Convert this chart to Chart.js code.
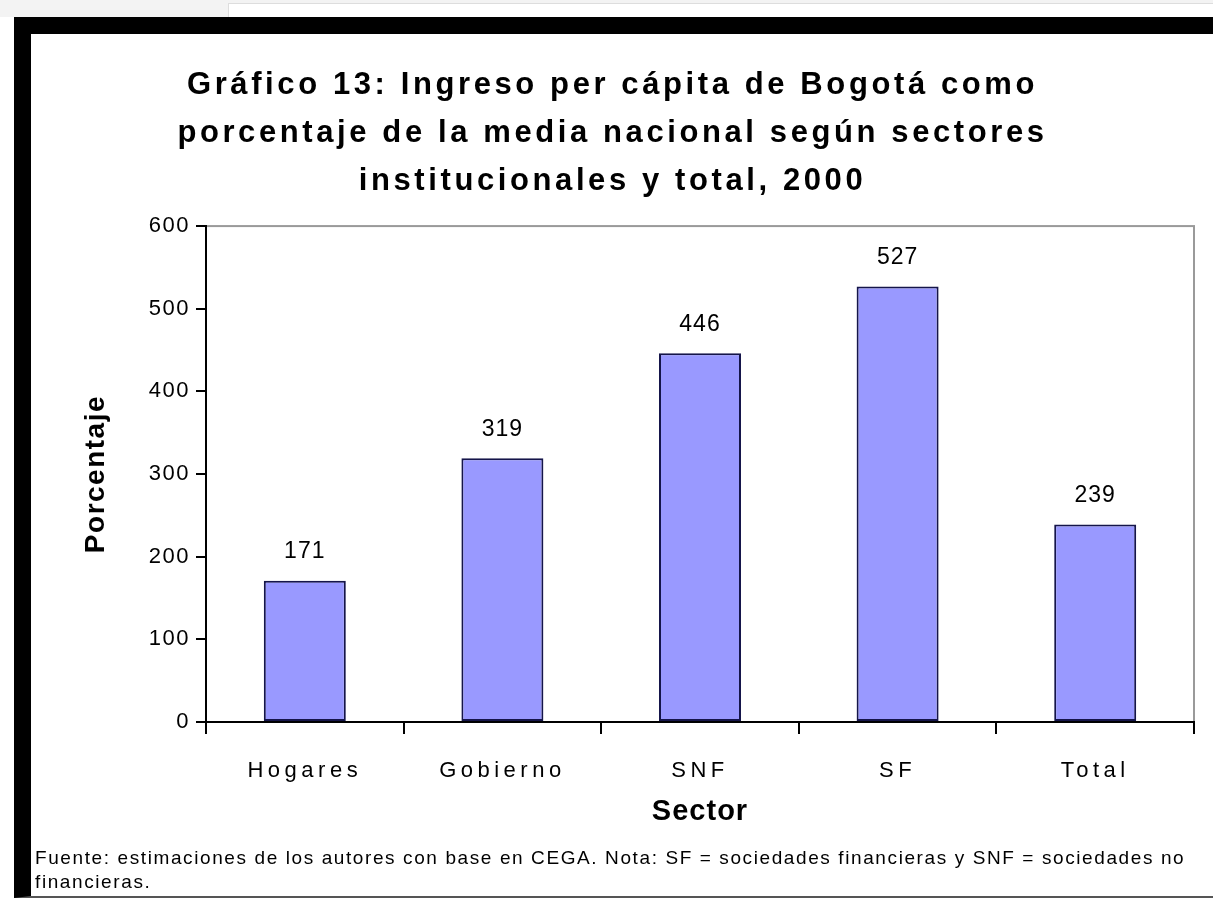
<!DOCTYPE html>
<html>
<head>
<meta charset="utf-8">
<script src="https://cdn.jsdelivr.net/npm/chart.js@4.4.1/dist/chart.umd.min.js"></script>
<style>
    body { margin: 0; background: #fff; width: 1213px; height: 900px; overflow: hidden; position: relative; font-family: "Liberation Sans", Arial, sans-serif; }
    .topstrip { position: absolute; left: 0; top: 0; width: 1213px; height: 17px; background: #f3f3f3; }
    .topbox { position: absolute; left: 228px; top: 3px; width: 990px; height: 14px; background: #fff; border-left: 1px solid #ddd; border-top: 1px solid #ddd; }
    .frame { position: absolute; left: 14px; top: 17px; width: 1182px; height: 862px; border-top: 17px solid #000; border-left: 17px solid #000; border-bottom: 2px solid #555; background: #fff; }
    #chart { position: absolute; left: 0; top: 0; }
    .note { position: absolute; left: 4px; top: 812px; font-size: 19px; line-height: 24px; letter-spacing: 1.6px; color: #000; white-space: nowrap; }
</style>
</head>
<body>
<div class="topstrip"><div class="topbox"></div></div>
<div class="frame">
    <canvas id="chart" width="1182" height="862"></canvas>
    <div class="note">Fuente: estimaciones de los autores con base en CEGA. Nota: SF = sociedades financieras y SNF = sociedades no<br>financieras.</div>
</div>
<script>
const sectores = ['Hogares', 'Gobierno', 'SNF', 'SF', 'Total'];
const porcentajes = [171, 319, 446, 527, 239];
const yTicks = [0, 100, 200, 300, 400, 500, 600];
const titulo = [
    'Gráfico 13: Ingreso per cápita de Bogotá como',
    'porcentaje de la media nacional según sectores',
    'institucionales y total, 2000'
];

const FONT = '"Liberation Sans", Arial, sans-serif';

// canvas text has no letter-spacing option in Chart.js, so wrap the draw calls
function spaced(obj, method, px) {
    if (!obj || obj['_sp_' + method]) return;
    const orig = obj[method];
    obj[method] = function (...args) {
        const c = this.ctx;
        const prev = c.letterSpacing;
        c.letterSpacing = px;
        orig.apply(this, args);
        c.letterSpacing = prev;
    };
    obj['_sp_' + method] = true;
}

const spacingPlugin = {
    id: 'spacing',
    afterLayout(chart) {
        spaced(chart.titleBlock, 'draw', '3.6px');
        spaced(chart.scales.x, 'drawLabels', '4.5px');
        spaced(chart.scales.x, 'drawTitle', '1px');
        spaced(chart.scales.y, 'drawLabels', '1.5px');
        spaced(chart.scales.y, 'drawTitle', '1.5px');
    }
};

// grey plot-area frame, drawn before the black axes
const plotBox = {
    id: 'plotBox',
    beforeDraw(chart) {
        const { ctx, chartArea: a } = chart;
        ctx.save();
        ctx.strokeStyle = '#9a9a9a';
        ctx.lineWidth = 2;
        ctx.strokeRect(a.left, a.top, a.right - a.left, a.bottom - a.top);
        ctx.restore();
    }
};

const valueLabels = {
    id: 'valueLabels',
    afterDatasetsDraw(chart) {
        const ctx = chart.ctx;
        const meta = chart.getDatasetMeta(0);
        ctx.save();
        ctx.font = '23px ' + FONT;
        ctx.fillStyle = '#000';
        ctx.textAlign = 'center';
        ctx.textBaseline = 'middle';
        ctx.letterSpacing = '1px';
        meta.data.forEach((bar, i) => {
            ctx.fillText(String(porcentajes[i]), bar.x, bar.y - 29);
        });
        ctx.restore();
    }
};

const ctx = document.getElementById('chart').getContext('2d');
const chart = new Chart(ctx, {
    type: 'bar',
    data: {
        labels: sectores,
        datasets: [{
            data: porcentajes,
            backgroundColor: '#9999ff',
            borderColor: '#15154a',
            borderWidth: 2,
            borderSkipped: false,
            barPercentage: 0.415,
            categoryPercentage: 1
        }]
    },
    options: {
        responsive: false,
        animation: false,
        devicePixelRatio: 1,
        layout: { padding: { left: 0, right: 19, top: 0, bottom: 54 } },
        plugins: {
            legend: { display: false },
            tooltip: { enabled: false },
            title: {
                display: true,
                text: titulo,
                color: '#000',
                font: { family: FONT, size: 31, weight: 'bold', lineHeight: 1.56 },
                padding: { top: 27, bottom: 20 }
            }
        },
        scales: {
            x: {
                border: { color: '#000', width: 2 },
                grid: { offset: true, drawOnChartArea: false, drawTicks: true, tickLength: 12, color: '#000', lineWidth: 2 },
                ticks: { color: '#000', padding: 24, font: { family: FONT, size: 22 } },
                title: {
                    display: true,
                    text: 'Sector',
                    color: '#000',
                    font: { family: FONT, size: 29, weight: 'bold' },
                    padding: { top: 0, bottom: 13 }
                },
                afterFit(scale) { scale.height = 120; }
            },
            y: {
                min: 0,
                max: 600,
                afterBuildTicks(scale) { scale.ticks = yTicks.map(v => ({ value: v })); },
                border: { color: '#000', width: 2 },
                grid: { drawOnChartArea: false, drawTicks: true, tickLength: 10, color: '#000', lineWidth: 2 },
                ticks: { color: '#000', padding: 6, font: { family: FONT, size: 22 } },
                title: {
                    display: true,
                    text: 'Porcentaje',
                    color: '#000',
                    font: { family: FONT, size: 28, weight: 'bold' },
                    padding: { top: 48, bottom: 0 }
                },
                afterFit(scale) { scale.width = 175; }
            }
        }
    },
    plugins: [spacingPlugin, plotBox, valueLabels]
});
chart.draw();
</script>
</body>
</html>
